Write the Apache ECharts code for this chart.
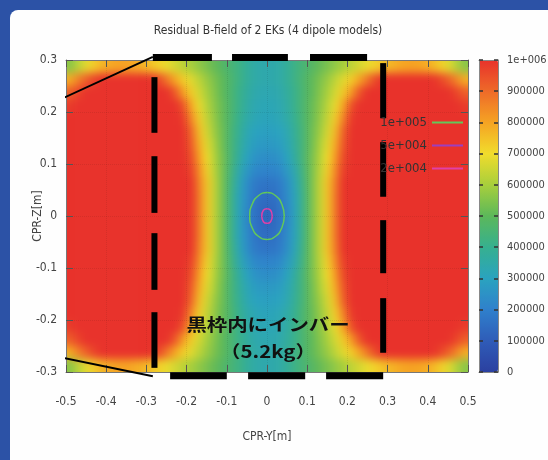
<!DOCTYPE html>
<html><head><meta charset="utf-8">
<script src="https://cdn.jsdelivr.net/npm/echarts@6/dist/echarts.min.js"></script>
<style>
html,body{margin:0;padding:0;background:#2c52a6;overflow:hidden;width:548px;height:460px;}
#panel{position:absolute;left:10px;top:10px;width:560px;height:470px;background:#fefefe;border-radius:8px;}
#c{position:absolute;left:0;top:0;width:548px;height:460px;}
</style>
</head><body><div id="panel"></div><div id="c"></div>
<script>
// ---- data (field values in units of 1e4) ----
const FIELD_UNIT = 1e4;
const xCenters = [-0.49,-0.47,-0.45,-0.43,-0.41,-0.39,-0.37,-0.35,-0.33,-0.31,-0.29,-0.27,-0.25,-0.23,-0.21,-0.19,-0.17,-0.15,-0.13,-0.11,-0.09,-0.07,-0.05,-0.03,-0.01,
  0.01,0.03,0.05,0.07,0.09,0.11,0.13,0.15,0.17,0.19,0.21,0.23,0.25,0.27,0.29,0.31,0.33,0.35,0.37,0.39,0.41,0.43,0.45,0.47,0.49];
const yCenters = [0.2875,0.2625,0.2375,0.2125,0.1875,0.1625,0.1375,0.1125,0.0875,0.0625,0.0375,0.0125,
  -0.0125,-0.0375,-0.0625,-0.0875,-0.1125,-0.1375,-0.1625,-0.1875,-0.2125,-0.2375,-0.2625,-0.2875];
const fieldRows = [
[56,62,68,73,77,79,80,80,79,77,75,72,69,66,63,60,57,54,51,48,45,42,38,35,34, 34,35,38,42,45,48,51,54,57,60,63,66,69,72,75,77,79,80,80,79,77,73,68,62,56],
[78,86,92,97,100,100,100,100,100,100,100,96,88,80,73,68,63,58,54,50,46,42,38,35,34, 34,35,38,42,46,50,54,58,63,68,73,80,88,96,100,100,100,100,100,100,100,97,92,86,78],
[92,97,100,100,100,100,100,100,100,100,100,100,100,94,82,73,66,60,55,50,46,41,37,34,33, 33,34,37,41,46,50,55,60,66,73,82,94,100,100,100,100,100,100,100,100,100,100,100,97,92],
[98,100,100,100,100,100,100,100,100,100,100,100,100,100,95,80,69,62,56,51,46,41,36,33,32, 32,33,36,41,46,51,56,62,69,80,95,100,100,100,100,100,100,100,100,100,100,100,100,100,98],
[100,100,100,100,100,100,100,100,100,100,100,100,100,100,99,86,73,64,57,51,46,40,35,32,31, 31,32,35,40,46,51,57,64,73,86,99,100,100,100,100,100,100,100,100,100,100,100,100,100,100],
[100,100,100,100,100,100,100,100,100,100,100,100,100,100,100,92,76,66,58,52,45,39,33,30,29, 29,30,33,39,45,52,58,66,76,92,100,100,100,100,100,100,100,100,100,100,100,100,100,100,100],
[100,100,100,100,100,100,100,100,100,100,100,100,100,100,100,94,79,68,60,52,45,38,32,28,27, 27,28,32,38,45,52,60,68,79,94,100,100,100,100,100,100,100,100,100,100,100,100,100,100,100],
[100,100,100,100,100,100,100,100,100,100,100,100,100,100,100,96,82,70,61,53,45,37,30,25,24, 24,25,30,37,45,53,61,70,82,96,100,100,100,100,100,100,100,100,100,100,100,100,100,100,100],
[100,100,100,100,100,100,100,100,100,100,100,100,100,100,100,98,85,72,62,53,44,34,27,22,21, 21,22,27,34,44,53,62,72,85,98,100,100,100,100,100,100,100,100,100,100,100,100,100,100,100],
[100,100,100,100,100,100,100,100,100,100,100,100,100,100,100,100,87,74,63,53,43,32,24,18,17, 17,18,24,32,43,53,63,74,87,100,100,100,100,100,100,100,100,100,100,100,100,100,100,100,100],
[100,100,100,100,100,100,100,100,100,100,100,100,100,100,100,100,88,74,63,53,42,31,23,17,15, 15,17,23,31,42,53,63,74,88,100,100,100,100,100,100,100,100,100,100,100,100,100,100,100,100],
[100,100,100,100,100,100,100,100,100,100,100,100,100,100,100,100,88,74,63,53,42,31,22,16,13, 13,16,22,31,42,53,63,74,88,100,100,100,100,100,100,100,100,100,100,100,100,100,100,100,100],
[100,100,100,100,100,100,100,100,100,100,100,100,100,100,100,100,88,74,63,53,42,31,22,16,13, 13,16,22,31,42,53,63,74,88,100,100,100,100,100,100,100,100,100,100,100,100,100,100,100,100],
[100,100,100,100,100,100,100,100,100,100,100,100,100,100,100,100,88,74,63,53,42,31,23,17,15, 15,17,23,31,42,53,63,74,88,100,100,100,100,100,100,100,100,100,100,100,100,100,100,100,100],
[100,100,100,100,100,100,100,100,100,100,100,100,100,100,100,100,87,74,63,53,43,32,24,18,17, 17,18,24,32,43,53,63,74,87,100,100,100,100,100,100,100,100,100,100,100,100,100,100,100,100],
[100,100,100,100,100,100,100,100,100,100,100,100,100,100,100,98,85,72,62,53,44,34,27,22,21, 21,22,27,34,44,53,62,72,85,98,100,100,100,100,100,100,100,100,100,100,100,100,100,100,100],
[100,100,100,100,100,100,100,100,100,100,100,100,100,100,100,96,82,70,61,53,45,37,30,25,24, 24,25,30,37,45,53,61,70,82,96,100,100,100,100,100,100,100,100,100,100,100,100,100,100,100],
[100,100,100,100,100,100,100,100,100,100,100,100,100,100,100,94,79,68,60,52,45,38,32,28,27, 27,28,32,38,45,52,60,68,79,94,100,100,100,100,100,100,100,100,100,100,100,100,100,100,100],
[100,100,100,100,100,100,100,100,100,100,100,100,100,100,100,92,76,66,58,52,45,39,33,30,29, 29,30,33,39,45,52,58,66,76,92,100,100,100,100,100,100,100,100,100,100,100,100,100,100,100],
[100,100,100,100,100,100,100,100,100,100,100,100,100,100,99,86,73,64,57,51,46,40,35,32,31, 31,32,35,40,46,51,57,64,73,86,99,100,100,100,100,100,100,100,100,100,100,100,100,100,100],
[98,100,100,100,100,100,100,100,100,100,100,100,100,100,95,80,69,62,56,51,46,41,36,33,32, 32,33,36,41,46,51,56,62,69,80,95,100,100,100,100,100,100,100,100,100,100,100,100,100,98],
[92,97,100,100,100,100,100,100,100,100,100,100,100,94,82,73,66,60,55,50,46,41,37,34,33, 33,34,37,41,46,50,55,60,66,73,82,94,100,100,100,100,100,100,100,100,100,100,100,97,92],
[78,86,92,97,100,100,100,100,100,100,100,96,88,80,73,68,63,58,54,50,46,42,38,35,34, 34,35,38,42,46,50,54,58,63,68,73,80,88,96,100,100,100,100,100,100,100,97,92,86,78],
[56,62,68,73,77,79,80,80,79,77,75,72,69,66,63,60,57,54,51,48,45,42,38,35,34, 34,35,38,42,45,48,51,54,57,60,63,66,69,72,75,77,79,80,80,79,77,73,68,62,56]
];
const colorbarLabels = ['0','100000','200000','300000','400000','500000','600000','700000','800000','900000','1e+006'];
const contourNames = ['1e+005','5e+004','2e+004'];
const contour1e5 = [[0.043,0],[0.037,0.0225],[0.0215,0.039],[0,0.045],[-0.0215,0.039],[-0.037,0.0225],[-0.043,0],[-0.037,-0.0225],[-0.0215,-0.039],[0,-0.045],[0.0215,-0.039],[0.037,-0.0225],[0.043,0]];
const contour5e4 = [];
const contour2e4 = [[0.013,0],[0.009,0.011],[0,0.014],[-0.009,0.011],[-0.013,0],[-0.009,-0.011],[0,-0.014],[0.009,-0.011],[0.013,0]];
// black overlay (invar frame) in data coordinates
const topBarY = 0.305;
const topBarsX = [[-0.284,-0.137],[-0.087,0.052],[0.107,0.249]];
const bottomBarY = -0.307;
const bottomBarsX = [[-0.241,-0.100],[-0.047,0.095],[0.147,0.289]];
const leftDashX = -0.280;
const leftDashesY = [[0.267,0.160],[0.115,0.006],[-0.033,-0.142],[-0.185,-0.292]];
const rightDashX = 0.289;
const rightDashesY = [[0.294,0.188],[0.142,0.037],[-0.008,-0.110],[-0.158,-0.263]];
const leaderLines = [[[-0.664,0.171],[-0.284,0.306]],[[-0.664,-0.248],[-0.284,-0.308]]];

// ---- build ----
const FONT = "'Liberation Sans Narrow','DejaVu Sans Condensed','Liberation Sans',sans-serif";
const heatData = [];
yCenters.forEach((y,i)=>xCenters.forEach((x,j)=>heatData.push([x,y,fieldRows[i][j]*FIELD_UNIT])));
const nCols = xCenters.length, nRows = yCenters.length;
const cellW = xCenters[1]-xCenters[0];
const cellH = yCenters[0]-yCenters[1];
const EXT = 16; // edge cells pushed past the frame so smoothing does not fade at the border

const series = [{
  type:'custom', xAxisIndex:0, yAxisIndex:0, data:heatData, z:1, zlevel:0, silent:true, clip:false,
  dimensions:['x','y','v'], encode:{x:0,y:1},
  renderItem(params, api){
    const idx = params.dataIndex, i = Math.floor(idx/nCols), j = idx % nCols;
    const x = api.value(0), y = api.value(1);
    const a = api.coord([x-cellW/2, y+cellH/2]);
    const b = api.coord([x+cellW/2, y-cellH/2]);
    let x0=a[0], y0=a[1], x1=b[0]+0.6, y1=b[1]+0.6;
    if (j===0) x0-=EXT; if (j===nCols-1) x1+=EXT;
    if (i===0) y0-=EXT; if (i===nRows-1) y1+=EXT;
    return {type:'rect', shape:{x:x0, y:y0, width:x1-x0, height:y1-y0}, style:{fill:api.visual('color')}};
  }
}];
const contourColors = ['#62c85a','#9b3fc0','#e040a8'];
[contour1e5, contour5e4, contour2e4].forEach((d,i)=>series.push({
  type:'line', name:contourNames[i], data:d, xAxisIndex:0, yAxisIndex:0, smooth:0.5, symbol:'none', zlevel:1,
  lineStyle:{width:1.5, color:contourColors[i]}, itemStyle:{color:contourColors[i]}, z:4, silent:true
}));
function seg(d, w){ series.push({type:'line', data:d, xAxisIndex:0, yAxisIndex:0, symbol:'none', clip:false, silent:true, z:6, zlevel:1,
  lineStyle:{width:w, color:'#000', cap:'butt'}}); }
topBarsX.forEach(s=>seg([[s[0],topBarY],[s[1],topBarY]],7));
bottomBarsX.forEach(s=>seg([[s[0],bottomBarY],[s[1],bottomBarY]],7));
leftDashesY.forEach(s=>seg([[leftDashX,s[0]],[leftDashX,s[1]]],6));
rightDashesY.forEach(s=>seg([[rightDashX,s[0]],[rightDashX,s[1]]],6));
leaderLines.forEach(l=>seg(l,2));

const lab = {color:'#444', fontSize:12, fontFamily:FONT};
const gridLine = {show:true, lineStyle:{type:'dotted', color:'rgba(0,0,0,0.08)'}};
const option = {
  animation:false,
  backgroundColor:'transparent',
  grid:[
    {left:66, top:60, width:402, height:312, outerBoundsMode:'none', containLabel:false},
    {left:479, top:60, width:19, height:312, outerBoundsMode:'none', containLabel:false}
  ],
  xAxis:[
    {gridIndex:0, type:'value', min:-0.5, max:0.5, interval:0.1, position:'bottom', z:5, zlevel:1,
     axisLine:{onZero:false, lineStyle:{color:'#777'}}, axisTick:{inside:true, length:7, lineStyle:{color:'#555'}},
     axisLabel:Object.assign({margin:24}, lab), splitLine:gridLine,
     name:'CPR-Y[m]', nameLocation:'middle', nameGap:59, nameMoveOverlap:false, nameTextStyle:{color:'#444', fontSize:12, fontFamily:FONT}},
    {gridIndex:0, type:'value', min:-0.5, max:0.5, interval:0.1, position:'top', z:5, zlevel:1,
     axisLine:{onZero:false, lineStyle:{color:'#777'}}, axisTick:{inside:true, length:7, lineStyle:{color:'#555'}},
     axisLabel:{show:false}, splitLine:{show:false}},
    {gridIndex:1, type:'value', min:0, max:1, position:'bottom', z:6, zlevel:1, axisLine:{onZero:false, lineStyle:{color:'#888'}}, axisTick:{show:false}, axisLabel:{show:false}, splitLine:{show:false}},
    {gridIndex:1, type:'value', min:0, max:1, position:'top', z:6, zlevel:1, axisLine:{onZero:false, lineStyle:{color:'#888'}}, axisTick:{show:false}, axisLabel:{show:false}, splitLine:{show:false}}
  ],
  yAxis:[
    {gridIndex:0, type:'value', min:-0.3, max:0.3, interval:0.1, position:'left', z:5, zlevel:1,
     axisLine:{onZero:false, lineStyle:{color:'#777'}}, axisTick:{inside:true, length:7, lineStyle:{color:'#555'}},
     axisLabel:Object.assign({margin:9}, lab), splitLine:gridLine,
     name:'CPR-Z[m]', nameLocation:'middle', nameGap:22, nameRotate:90, nameMoveOverlap:false, nameTextStyle:{color:'#444', fontSize:12, fontFamily:FONT}},
    {gridIndex:0, type:'value', min:-0.3, max:0.3, interval:0.1, position:'right', z:5, zlevel:1,
     axisLine:{onZero:false, lineStyle:{color:'#777'}}, axisTick:{inside:true, length:7, lineStyle:{color:'#555'}},
     axisLabel:{show:false}, splitLine:{show:false}},
    {gridIndex:1, type:'value', min:0, max:1e6, interval:1e5, position:'right', z:6, zlevel:1,
     axisLine:{onZero:false, lineStyle:{color:'#888'}}, axisTick:{inside:true, length:4, lineStyle:{color:'#333', width:1.5}},
     axisLabel:{margin:9, color:'#444', fontSize:11, fontFamily:FONT, align:'left', formatter:(v,i)=>colorbarLabels[i]}, splitLine:{show:false}},
    {gridIndex:1, type:'value', min:0, max:1e6, interval:1e5, position:'left', z:6, zlevel:1,
     axisLine:{onZero:false, lineStyle:{color:'#888'}}, axisTick:{inside:true, length:4, lineStyle:{color:'#333', width:1.5}},
     axisLabel:{show:false}, splitLine:{show:false}}
  ],
  visualMap:{type:'continuous', min:0, max:1e6, seriesIndex:0, dimension:2, calculable:false, hoverLink:false,
    left:479, top:60, itemWidth:19, itemHeight:312, padding:0, text:null, z:4, zlevel:1,
    inRange:{color:['#2b40a0','#2f5cb8','#2f80cc','#2aa3bf','#36b08f','#5cb85a','#a8cf3c','#f1dc2c','#f5a323','#ee6a29','#e8322b']}},
  legend:{data:contourNames, orient:'vertical', align:'right', right:85, top:116, padding:0, itemGap:10,
    icon:'rect', itemWidth:31, itemHeight:2, selectedMode:false, z:7, zlevel:1,
    textStyle:{color:'#333', fontSize:13, fontFamily:FONT}},
  graphic:[
    {type:'text', zlevel:1, z:100, x:268, y:31, style:{text:'Residual B-field of 2 EKs (4 dipole models)', fill:'#333', fontSize:12, fontFamily:FONT, align:'center', verticalAlign:'middle'}},
    {type:'text', zlevel:1, z:100, x:268, y:325, scaleX:1.2, style:{text:'黒枠内にインバー', fill:'#111', fontSize:17, fontWeight:'bold', fontFamily:"'Noto Sans CJK JP',sans-serif", align:'center', verticalAlign:'middle'}},
    {type:'text', zlevel:1, z:100, x:268, y:352, scaleX:1.2, style:{text:'（5.2kg）', fill:'#111', fontSize:17, fontWeight:'bold', fontFamily:"'Noto Sans CJK JP',sans-serif", align:'center', verticalAlign:'middle'}}
  ],
  series:series
};
const chart = echarts.init(document.getElementById('c'));
chart.setOption(option);
// soften the field layer (like pm3d interpolation) and clip it to the plot frame
function smoothField(){
  const zr = chart.getZr();
  if (zr.refreshImmediately) zr.refreshImmediately();
  const layer = zr.painter && zr.painter.getLayer ? zr.painter.getLayer(0) : null;
  const dom = layer && layer.dom ? layer.dom : document.querySelector('#c canvas');
  if (dom){ dom.style.filter = 'blur(4px)'; dom.style.clipPath = 'inset(60px 80px 88px 66px)'; }
}
smoothField();
</script></body></html>
